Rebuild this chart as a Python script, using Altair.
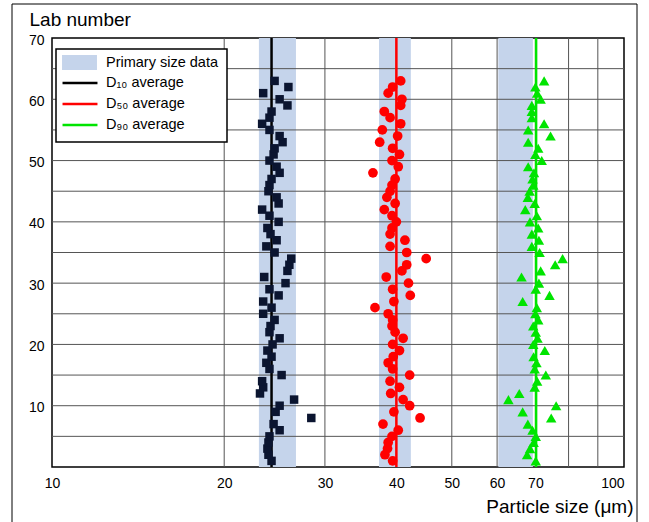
import altair as alt
import pandas as pd

# ---------------- data ----------------
lab_numbers = list(range(1, 64))
d10_values = [24.2, 23.9, 23.8, 23.9, 24.0, 25.0, 24.4, 28.4, 24.6, 25.0,
              26.5, 23.1, 23.4, 23.3, 25.2, 24.0, 23.7, 24.2, 23.8, 24.3,
              25.0, 24.0, 24.1, 24.5, 23.4, 24.2, 23.4, 24.9, 24.0, 25.6,
              23.5, 25.8, 26.0, 26.2, 24.5, 23.7, 24.7, 24.1, 23.8, 24.9,
              24.0, 23.3, 24.9, 24.7, 23.9, 24.0, 24.2, 25.0, 24.7, 24.0,
              24.4, 24.5, 25.3, 25.0, 24.0, 23.3, 24.0, 24.2, 25.8, 25.0,
              23.4, 25.9, 24.5]
d50_values = [39.4, 38.2, 38.6, 38.7, 39.3, 40.3, 37.9, 44.0, 39.6, 42.2,
              41.1, 39.1, 40.5, 39.0, 42.2, 39.4, 38.7, 39.5, 40.5, 39.4,
              41.1, 39.8, 39.3, 39.4, 38.7, 36.7, 39.6, 42.3, 39.4, 42.0,
              38.4, 40.9, 41.7, 45.1, 41.7, 39.0, 41.4, 39.0, 39.3, 40.0,
              39.3, 38.1, 39.8, 38.5, 39.0, 39.3, 39.8, 36.4, 40.3, 39.3,
              40.5, 39.4, 37.4, 40.2, 37.8, 40.7, 39.0, 38.1, 40.7, 40.9,
              38.7, 39.4, 40.7]
d90_values = [70.1, 67.7, 68.5, 69.5, 70.1, 69.2, 67.9, 74.6, 66.5, 76.1,
              62.8, 65.6, 69.8, 70.5, 73.0, 69.8, 70.3, 69.5, 72.7, 69.4,
              70.6, 70.1, 69.4, 70.8, 70.0, 70.4, 66.5, 74.1, 70.1, 71.0,
              66.2, 71.5, 75.8, 78.1, 71.2, 69.0, 71.0, 69.0, 70.8, 68.5,
              70.4, 67.2, 69.8, 67.9, 68.4, 69.4, 69.2, 69.6, 68.0, 71.8,
              70.0, 70.8, 68.0, 74.4, 68.0, 72.5, 69.0, 69.0, 69.0, 71.5,
              70.5, 70.0, 72.5]

band_name = ["Primary size data"]
band_color = ["#c5d4eb"]
avg_names = ["D₁₀ average", "D₅₀ average", "D₉₀ average"]
avg_colors = ["#000000", "#ff0000", "#00e400"]
band_low = [23.0, 37.3, 60.3]
band_high = [26.7, 42.4, 69.3]
average_values = [24.2, 40.0, 70.2]

x_tick_values = [10, 20, 30, 40, 50, 60, 70, 100]
x_grid_values = [20, 30, 40, 50, 60, 70, 80, 90]
y_tick_values = [10, 20, 30, 40, 50, 60, 70]
y_grid_values = [5, 10, 15, 20, 25, 30, 35, 40, 45, 50, 55, 60, 65]

# ---------------- tables ----------------
points = pd.DataFrame({"lab": lab_numbers, "d10": d10_values,
                       "d50": d50_values, "d90": d90_values})
bands = pd.DataFrame({"series": band_name * 3, "lo": band_low, "hi": band_high})
avgs = pd.DataFrame({"series": avg_names, "v": average_values})
xgrid = pd.DataFrame({"g": x_grid_values})
ygrid = pd.DataFrame({"g": y_grid_values})

FONT = "Liberation Sans"
W, H = 572, 429

xscale = alt.Scale(type="log", domain=[10, 100], nice=False)
yscale = alt.Scale(domain=[0, 70], nice=False)

RECT_PATH = "M-2.33,-1H2.33V1H-2.33Z"
LINE_PATH = "M-2.33,0H2.33"

common_legend = dict(title=None, orient="none", direction="vertical",
                     padding=6, symbolSize=225, rowPadding=5, labelFont=FONT,
                     labelFontSize=14.5, labelColor="black", labelLimit=0)

legend_band = alt.Legend(legendX=4, legendY=11, symbolType=RECT_PATH,
                         symbolStrokeWidth=0, symbolOffset=10, labelOffset=19,
                         **common_legend)
legend_avg = alt.Legend(legendX=4, legendY=30, symbolType=LINE_PATH,
                        symbolStrokeWidth=2.5, symbolOffset=9, labelOffset=17,
                        **common_legend)

xaxis = alt.Axis(values=x_tick_values, grid=False, ticks=False, domain=False,
                 labelFont=FONT, labelFontSize=14, labelColor="black", labelPadding=9,
                 labelAlign={"condition": {"test": "datum.value >= 100", "value": "right"},
                             "value": "center"},
                 title="Particle size (μm)", titleFont=FONT, titleFontSize=19,
                 titleFontWeight="normal", titleColor="black", titleAlign="right",
                 titleAnchor="end", titleX=581, titleY=45, titleBaseline="alphabetic",
                 labelFlush=False, labelOverlap=False)
yaxis = alt.Axis(values=y_tick_values, grid=False, ticks=False, domain=False,
                 labelFont=FONT, labelFontSize=14, labelColor="black", labelPadding=8,
                 labelOffset=2,
                 title="Lab number", titleFont=FONT, titleFontSize=19,
                 titleFontWeight="normal", titleColor="black", titleAngle=0,
                 titleAlign="left", titleX=-23, titleY=-13, titleBaseline="alphabetic",
                 labelFlush=False, labelOverlap=False)

band_layer = alt.Chart(bands).mark_rect(opacity=1).encode(
    x=alt.X("lo:Q", scale=xscale, axis=xaxis),
    x2="hi:Q",
    fill=alt.Fill("series:N", scale=alt.Scale(domain=band_name, range=band_color),
                  legend=legend_band),
)

xgrid_layer = alt.Chart(xgrid).mark_rule(color="#555555", strokeWidth=1).encode(
    x=alt.X("g:Q", scale=xscale))
ygrid_layer = alt.Chart(ygrid).mark_rule(color="#555555", strokeWidth=1).encode(
    y=alt.Y("g:Q", scale=yscale, axis=yaxis))

avg_layer = alt.Chart(avgs).mark_rule(strokeWidth=2.5, opacity=1).encode(
    x=alt.X("v:Q", scale=xscale),
    stroke=alt.Stroke("series:N", scale=alt.Scale(domain=avg_names, range=avg_colors),
                      legend=legend_avg),
)

sq_layer = alt.Chart(points).mark_square(size=72, color="#0b1530", opacity=1).encode(
    x=alt.X("d10:Q", scale=xscale), y=alt.Y("lab:Q", scale=yscale))
ci_layer = alt.Chart(points).mark_circle(size=95, color="#ff0000", opacity=1).encode(
    x=alt.X("d50:Q", scale=xscale), y=alt.Y("lab:Q", scale=yscale))
tri_layer = alt.Chart(points).mark_point(shape="triangle-up", filled=True, size=110,
                                         color="#00e400", opacity=1).encode(
    x=alt.X("d90:Q", scale=xscale), y=alt.Y("lab:Q", scale=yscale))

one = pd.DataFrame({"k": [0]})
legend_box = alt.Chart(one).mark_rect(fill="white", stroke="black", strokeWidth=1.5).encode(
    x=alt.value(4), x2=alt.value(175), y=alt.value(11), y2=alt.value(104))
frame_layer = alt.Chart(one).mark_rect(
    fillOpacity=0, stroke="black", strokeWidth=1).encode(
    x=alt.value(-40), x2=alt.value(585), y=alt.value(-34), y2=alt.value(500))

chart = alt.layer(
    band_layer, xgrid_layer, ygrid_layer, avg_layer, sq_layer, ci_layer, tri_layer,
    legend_box, frame_layer,
).resolve_scale(fill="independent", stroke="independent").properties(
    width=W, height=H,
    autosize=alt.AutoSizeParams(type="none"),
    padding={"left": 52, "top": 38, "right": 25, "bottom": 55},
    background="white",
).configure_view(stroke="black", strokeWidth=1.5)

chart.save("out.html", embed_options={"renderer": "svg", "actions": False})
